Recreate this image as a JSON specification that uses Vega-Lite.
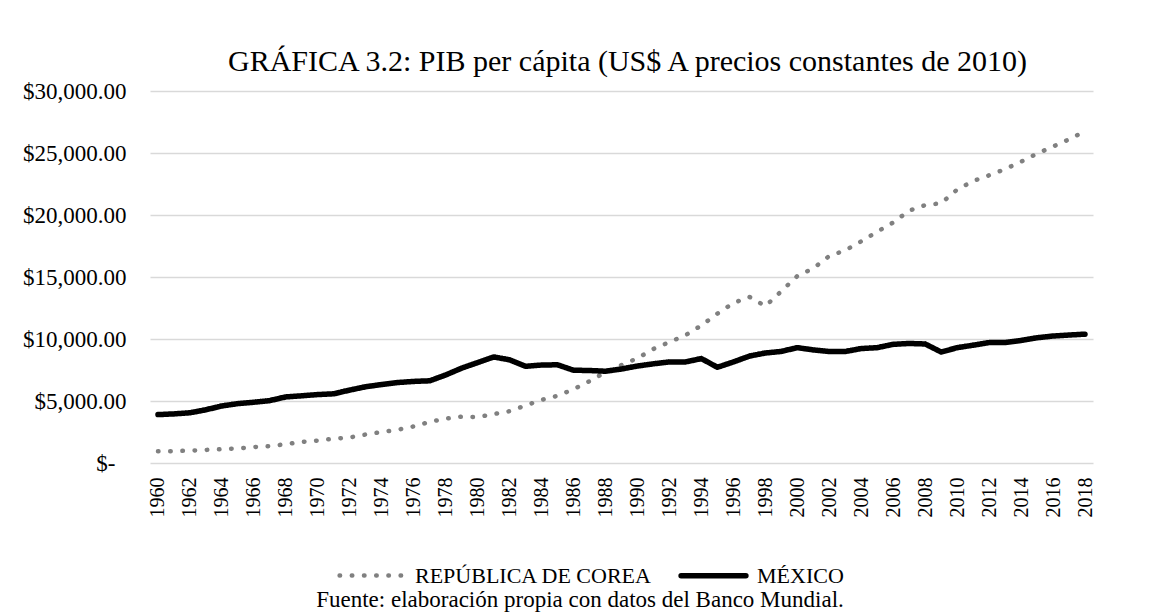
{
  "$schema": "https://vega.github.io/schema/vega-lite/v6.json",
  "width": 943,
  "height": 372,
  "autosize": "none",
  "padding": {"left": 150, "top": 91, "right": 77, "bottom": 150},
  "background": "white",
  "title": {
    "text": "GRÁFICA 3.2: PIB per cápita (US$ A precios constantes de 2010)",
    "font": "Liberation Serif",
    "fontSize": 30,
    "fontWeight": "normal",
    "color": "#000000",
    "anchor": "middle",
    "frame": "group",
    "offset": 3,
    "dx": 6
  },
  "data": {
    "values": [
      {"year": 1960, "country": "REPÚBLICA DE COREA", "value": 944},
      {"year": 1961, "country": "REPÚBLICA DE COREA", "value": 960},
      {"year": 1962, "country": "REPÚBLICA DE COREA", "value": 1000},
      {"year": 1963, "country": "REPÚBLICA DE COREA", "value": 1055},
      {"year": 1964, "country": "REPÚBLICA DE COREA", "value": 1110},
      {"year": 1965, "country": "REPÚBLICA DE COREA", "value": 1170},
      {"year": 1966, "country": "REPÚBLICA DE COREA", "value": 1290},
      {"year": 1967, "country": "REPÚBLICA DE COREA", "value": 1360},
      {"year": 1968, "country": "REPÚBLICA DE COREA", "value": 1520},
      {"year": 1969, "country": "REPÚBLICA DE COREA", "value": 1700},
      {"year": 1970, "country": "REPÚBLICA DE COREA", "value": 1810},
      {"year": 1971, "country": "REPÚBLICA DE COREA", "value": 1960},
      {"year": 1972, "country": "REPÚBLICA DE COREA", "value": 2060},
      {"year": 1973, "country": "REPÚBLICA DE COREA", "value": 2300},
      {"year": 1974, "country": "REPÚBLICA DE COREA", "value": 2500},
      {"year": 1975, "country": "REPÚBLICA DE COREA", "value": 2680},
      {"year": 1976, "country": "REPÚBLICA DE COREA", "value": 2950},
      {"year": 1977, "country": "REPÚBLICA DE COREA", "value": 3320},
      {"year": 1978, "country": "REPÚBLICA DE COREA", "value": 3580},
      {"year": 1979, "country": "REPÚBLICA DE COREA", "value": 3740},
      {"year": 1980, "country": "REPÚBLICA DE COREA", "value": 3700},
      {"year": 1981, "country": "REPÚBLICA DE COREA", "value": 3950},
      {"year": 1982, "country": "REPÚBLICA DE COREA", "value": 4180},
      {"year": 1983, "country": "REPÚBLICA DE COREA", "value": 4640},
      {"year": 1984, "country": "REPÚBLICA DE COREA", "value": 5090},
      {"year": 1985, "country": "REPÚBLICA DE COREA", "value": 5420},
      {"year": 1986, "country": "REPÚBLICA DE COREA", "value": 5950},
      {"year": 1987, "country": "REPÚBLICA DE COREA", "value": 6600},
      {"year": 1988, "country": "REPÚBLICA DE COREA", "value": 7330},
      {"year": 1989, "country": "REPÚBLICA DE COREA", "value": 7900},
      {"year": 1990, "country": "REPÚBLICA DE COREA", "value": 8450},
      {"year": 1991, "country": "REPÚBLICA DE COREA", "value": 9200},
      {"year": 1992, "country": "REPÚBLICA DE COREA", "value": 9750},
      {"year": 1993, "country": "REPÚBLICA DE COREA", "value": 10300},
      {"year": 1994, "country": "REPÚBLICA DE COREA", "value": 11100},
      {"year": 1995, "country": "REPÚBLICA DE COREA", "value": 12050},
      {"year": 1996, "country": "REPÚBLICA DE COREA", "value": 12900},
      {"year": 1997, "country": "REPÚBLICA DE COREA", "value": 13400},
      {"year": 1998, "country": "REPÚBLICA DE COREA", "value": 12650},
      {"year": 1999, "country": "REPÚBLICA DE COREA", "value": 13850},
      {"year": 2000, "country": "REPÚBLICA DE COREA", "value": 15080},
      {"year": 2001, "country": "REPÚBLICA DE COREA", "value": 15700},
      {"year": 2002, "country": "REPÚBLICA DE COREA", "value": 16690},
      {"year": 2003, "country": "REPÚBLICA DE COREA", "value": 17150},
      {"year": 2004, "country": "REPÚBLICA DE COREA", "value": 17880},
      {"year": 2005, "country": "REPÚBLICA DE COREA", "value": 18650},
      {"year": 2006, "country": "REPÚBLICA DE COREA", "value": 19400},
      {"year": 2007, "country": "REPÚBLICA DE COREA", "value": 20350},
      {"year": 2008, "country": "REPÚBLICA DE COREA", "value": 20800},
      {"year": 2009, "country": "REPÚBLICA DE COREA", "value": 20950},
      {"year": 2010, "country": "REPÚBLICA DE COREA", "value": 22050},
      {"year": 2011, "country": "REPÚBLICA DE COREA", "value": 22740},
      {"year": 2012, "country": "REPÚBLICA DE COREA", "value": 23200},
      {"year": 2013, "country": "REPÚBLICA DE COREA", "value": 23700},
      {"year": 2014, "country": "REPÚBLICA DE COREA", "value": 24300},
      {"year": 2015, "country": "REPÚBLICA DE COREA", "value": 24950},
      {"year": 2016, "country": "REPÚBLICA DE COREA", "value": 25520},
      {"year": 2017, "country": "REPÚBLICA DE COREA", "value": 26100},
      {"year": 2018, "country": "REPÚBLICA DE COREA", "value": 26760},
      {"year": 1960, "country": "MÉXICO", "value": 3903},
      {"year": 1961, "country": "MÉXICO", "value": 3960},
      {"year": 1962, "country": "MÉXICO", "value": 4050},
      {"year": 1963, "country": "MÉXICO", "value": 4290},
      {"year": 1964, "country": "MÉXICO", "value": 4600},
      {"year": 1965, "country": "MÉXICO", "value": 4790},
      {"year": 1966, "country": "MÉXICO", "value": 4900},
      {"year": 1967, "country": "MÉXICO", "value": 5030},
      {"year": 1968, "country": "MÉXICO", "value": 5330},
      {"year": 1969, "country": "MÉXICO", "value": 5420},
      {"year": 1970, "country": "MÉXICO", "value": 5520},
      {"year": 1971, "country": "MÉXICO", "value": 5580},
      {"year": 1972, "country": "MÉXICO", "value": 5880},
      {"year": 1973, "country": "MÉXICO", "value": 6150},
      {"year": 1974, "country": "MÉXICO", "value": 6330},
      {"year": 1975, "country": "MÉXICO", "value": 6490},
      {"year": 1976, "country": "MÉXICO", "value": 6580},
      {"year": 1977, "country": "MÉXICO", "value": 6630},
      {"year": 1978, "country": "MÉXICO", "value": 7100},
      {"year": 1979, "country": "MÉXICO", "value": 7650},
      {"year": 1980, "country": "MÉXICO", "value": 8100},
      {"year": 1981, "country": "MÉXICO", "value": 8550},
      {"year": 1982, "country": "MÉXICO", "value": 8320},
      {"year": 1983, "country": "MÉXICO", "value": 7800},
      {"year": 1984, "country": "MÉXICO", "value": 7900},
      {"year": 1985, "country": "MÉXICO", "value": 7920},
      {"year": 1986, "country": "MÉXICO", "value": 7480},
      {"year": 1987, "country": "MÉXICO", "value": 7460},
      {"year": 1988, "country": "MÉXICO", "value": 7400},
      {"year": 1989, "country": "MÉXICO", "value": 7580},
      {"year": 1990, "country": "MÉXICO", "value": 7820},
      {"year": 1991, "country": "MÉXICO", "value": 8000},
      {"year": 1992, "country": "MÉXICO", "value": 8150},
      {"year": 1993, "country": "MÉXICO", "value": 8150},
      {"year": 1994, "country": "MÉXICO", "value": 8420},
      {"year": 1995, "country": "MÉXICO", "value": 7720},
      {"year": 1996, "country": "MÉXICO", "value": 8150},
      {"year": 1997, "country": "MÉXICO", "value": 8620},
      {"year": 1998, "country": "MÉXICO", "value": 8870},
      {"year": 1999, "country": "MÉXICO", "value": 9000},
      {"year": 2000, "country": "MÉXICO", "value": 9300},
      {"year": 2001, "country": "MÉXICO", "value": 9120},
      {"year": 2002, "country": "MÉXICO", "value": 8990},
      {"year": 2003, "country": "MÉXICO", "value": 8990},
      {"year": 2004, "country": "MÉXICO", "value": 9230},
      {"year": 2005, "country": "MÉXICO", "value": 9300},
      {"year": 2006, "country": "MÉXICO", "value": 9570},
      {"year": 2007, "country": "MÉXICO", "value": 9640},
      {"year": 2008, "country": "MÉXICO", "value": 9600},
      {"year": 2009, "country": "MÉXICO", "value": 8950},
      {"year": 2010, "country": "MÉXICO", "value": 9300},
      {"year": 2011, "country": "MÉXICO", "value": 9500},
      {"year": 2012, "country": "MÉXICO", "value": 9710},
      {"year": 2013, "country": "MÉXICO", "value": 9720},
      {"year": 2014, "country": "MÉXICO", "value": 9880},
      {"year": 2015, "country": "MÉXICO", "value": 10100},
      {"year": 2016, "country": "MÉXICO", "value": 10240},
      {"year": 2017, "country": "MÉXICO", "value": 10320},
      {"year": 2018, "country": "MÉXICO", "value": 10390}
    ]
  },
  "mark": {"type": "line", "strokeCap": "round", "strokeJoin": "round", "clip": false},
  "encoding": {
    "x": {
      "field": "year",
      "type": "quantitative",
      "scale": {"domain": [1959.5, 2018.5], "nice": false, "zero": false},
      "axis": {
        "title": null,
        "values": [1960, 1962, 1964, 1966, 1968, 1970, 1972, 1974, 1976, 1978, 1980, 1982, 1984, 1986, 1988, 1990, 1992, 1994, 1996, 1998, 2000, 2002, 2004, 2006, 2008, 2010, 2012, 2014, 2016, 2018],
        "format": "d",
        "labelAngle": 270,
        "labelAlign": "right",
        "labelBaseline": "middle",
        "labelPadding": 14,
        "labelFont": "Liberation Serif",
        "labelFontSize": 20,
        "labelColor": "#000000",
        "labelOverlap": false,
        "labelFlush": false,
        "ticks": false,
        "tickSize": 0,
        "domain": false,
        "grid": false
      }
    },
    "y": {
      "field": "value",
      "type": "quantitative",
      "scale": {"domain": [0, 30000], "nice": false},
      "axis": {
        "title": null,
        "values": [0, 5000, 10000, 15000, 20000, 25000, 30000],
        "labelExpr": "datum.value == 0 ? '$-' : '$' + format(datum.value, ',.2f')",
        "labelPadding": {"condition": {"test": "datum.value == 0", "value": 35}, "value": 24},
        "labelFont": "Liberation Serif",
        "labelFontSize": 23,
        "labelColor": "#000000",
        "ticks": false,
        "tickSize": 0,
        "domain": false,
        "grid": true,
        "gridColor": "#d9d9d9",
        "gridWidth": 1.5
      }
    },
    "color": {
      "field": "country",
      "type": "nominal",
      "scale": {"domain": ["REPÚBLICA DE COREA", "MÉXICO"], "range": ["#808080", "#000000"]},
      "legend": {
        "title": "Fuente: elaboración propia con datos del Banco Mundial.",
        "titleOrient": "bottom",
        "titleAnchor": "middle",
        "titleFont": "Liberation Serif",
        "titleFontSize": 23,
        "titleFontWeight": "normal",
        "titleColor": "#000000",
        "titleLimit": 1000,
        "titlePadding": 2,
        "orient": "none",
        "legendX": 166,
        "legendY": 449,
        "direction": "horizontal",
        "symbolType": "stroke",
        "symbolSize": 4200,
        "labelFont": "Liberation Serif",
        "labelFontSize": 22,
        "labelColor": "#000000",
        "labelOffset": 8,
        "labelLimit": 1000,
        "columnPadding": 17,
        "encode": {
          "symbols": {"update": {"strokeCap": {"value": "round"}}},
          "title": {"update": {"dx": {"value": -10}}}
        }
      }
    },
    "strokeDash": {
      "field": "country",
      "type": "nominal",
      "scale": {"domain": ["REPÚBLICA DE COREA", "MÉXICO"], "range": [[0.5, 11.7], [1, 0]]}
    },
    "strokeWidth": {
      "field": "country",
      "type": "nominal",
      "scale": {"domain": ["REPÚBLICA DE COREA", "MÉXICO"], "range": [4.5, 5.5]}
    }
  },
  "config": {
    "view": {"stroke": null},
    "font": "Liberation Serif"
  }
}
